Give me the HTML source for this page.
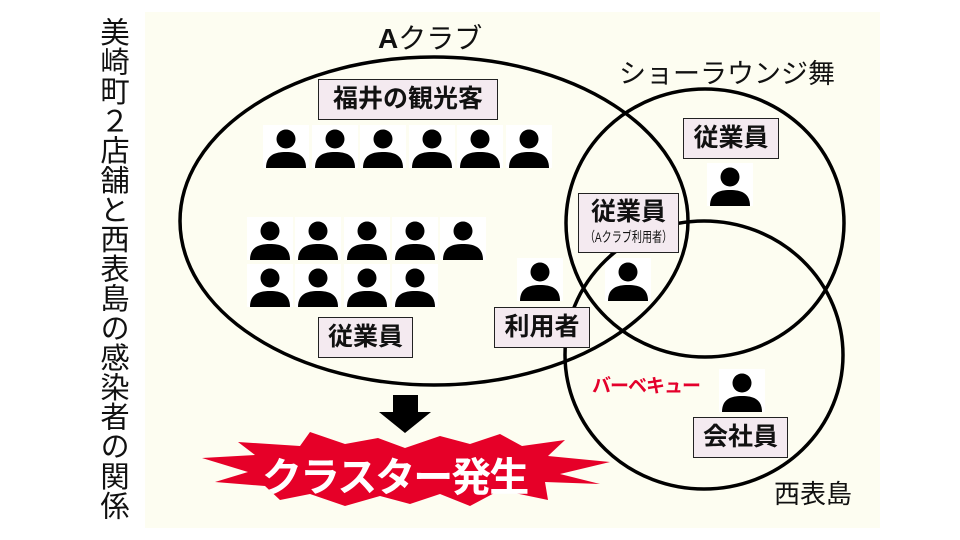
<!DOCTYPE html>
<html><head><meta charset="utf-8"><style>
body{margin:0;background:#fff;}
#c{position:relative;width:960px;height:540px;overflow:hidden;background:#fff;font-family:"Liberation Sans","Noto Sans CJK JP",sans-serif;}
.panel{position:absolute;left:145px;top:12px;width:735px;height:516px;background:#fdfdf1;}
.t{position:absolute;left:92px;top:17px;width:38px;writing-mode:vertical-rl;text-orientation:upright;font-size:29.3px;line-height:36px;color:#111;letter-spacing:0.3px;}
.box{position:absolute;background:#f4eaf0;border:1.5px solid #222;box-sizing:border-box;text-align:center;font-weight:bold;color:#111;}
.lbl{position:absolute;color:#111;white-space:nowrap;}
</style></head><body><div id="c">
<div class="panel"></div>
<div class="t">美崎町２店舗と西表島の感染者の関係</div>
<svg width="960" height="540" style="position:absolute;left:0;top:0">
<defs>
<g id="p"><rect x="0" y="0" width="46" height="43" fill="#fff"/><circle cx="23" cy="14" r="9.5" fill="#000"/><path d="M3 43 C3 30 12 27 23 27 C34 27 43 30 43 43 Z" fill="#000"/></g>
</defs>
<g>
<use href="#p" x="263" y="125"/><use href="#p" x="312" y="125"/><use href="#p" x="360" y="125"/><use href="#p" x="409" y="125"/><use href="#p" x="457" y="125"/><use href="#p" x="506" y="125"/>
<use href="#p" x="247" y="217"/><use href="#p" x="295" y="217"/><use href="#p" x="344" y="217"/><use href="#p" x="392" y="217"/><use href="#p" x="440" y="217"/>
<use href="#p" x="247" y="264"/><use href="#p" x="295" y="264"/><use href="#p" x="344" y="264"/><use href="#p" x="392" y="264"/>
<use href="#p" x="517" y="258"/><use href="#p" x="605" y="258"/><use href="#p" x="707" y="163"/><use href="#p" x="719" y="369"/>
</g>
<g fill="none" stroke="#000" stroke-width="3.5">
<ellipse cx="434" cy="221" rx="254" ry="164"/>
<ellipse cx="705" cy="223" rx="139" ry="134"/>
<ellipse cx="704" cy="355" rx="139" ry="134"/>
</g>
<line x1="612" y1="253" x2="606" y2="260" stroke="#000" stroke-width="2"/>
<polygon points="393,395 418,395 418,412 431,412 405,433 379,412 393,412" fill="#000"/>
<polygon fill="#e60028" points="202,458 255,455 238,442 300,446 310,432 345,444 378,438 405,448 440,436 470,444 500,434 522,446 565,440 548,456 610,462 560,474 600,484 545,482 548,500 500,490 470,506 440,494 410,504 380,496 345,506 310,494 280,500 265,486 215,482 248,472"/>
</svg>
<div class="lbl" style="left:378px;top:17px;font-size:28px;"><b>A</b>クラブ</div>
<div class="lbl" style="left:619px;top:52px;font-size:27px;">ショーラウンジ舞</div>
<div class="lbl" style="left:774px;top:474px;font-size:26px;">西表島</div>
<div class="lbl" style="left:592px;top:371px;font-size:19px;font-weight:bold;color:#e4002b;letter-spacing:-1px;">バーベキュー</div>
<div class="lbl" style="left:262px;top:445px;width:280px;font-size:40px;font-weight:bold;color:#fff;letter-spacing:-2px;">クラスター発生</div>
<div class="box" style="left:318px;top:79px;width:180px;height:41px;font-size:25px;line-height:38px;">福井の観光客</div>
<div class="box" style="left:318px;top:317px;width:95px;height:41px;font-size:25px;line-height:38px;">従業員</div>
<div class="box" style="left:494px;top:307px;width:96px;height:41px;font-size:25px;line-height:38px;">利用者</div>
<div class="box" style="left:683px;top:118px;width:96px;height:41px;font-size:25px;line-height:38px;">従業員</div>
<div class="box" style="left:693px;top:417px;width:95px;height:41px;font-size:25px;line-height:38px;">会社員</div>
<div class="box" style="left:578px;top:193px;width:101px;height:60px;"><div style="font-size:25px;line-height:32px;margin-top:2px;">従業員</div><div style="font-size:14px;line-height:18px;font-weight:normal;white-space:nowrap;transform:scaleX(0.72);transform-origin:50% 50%;margin-left:-30px;margin-right:-30px;">（Aクラブ利用者）</div></div>
</div></body></html>
